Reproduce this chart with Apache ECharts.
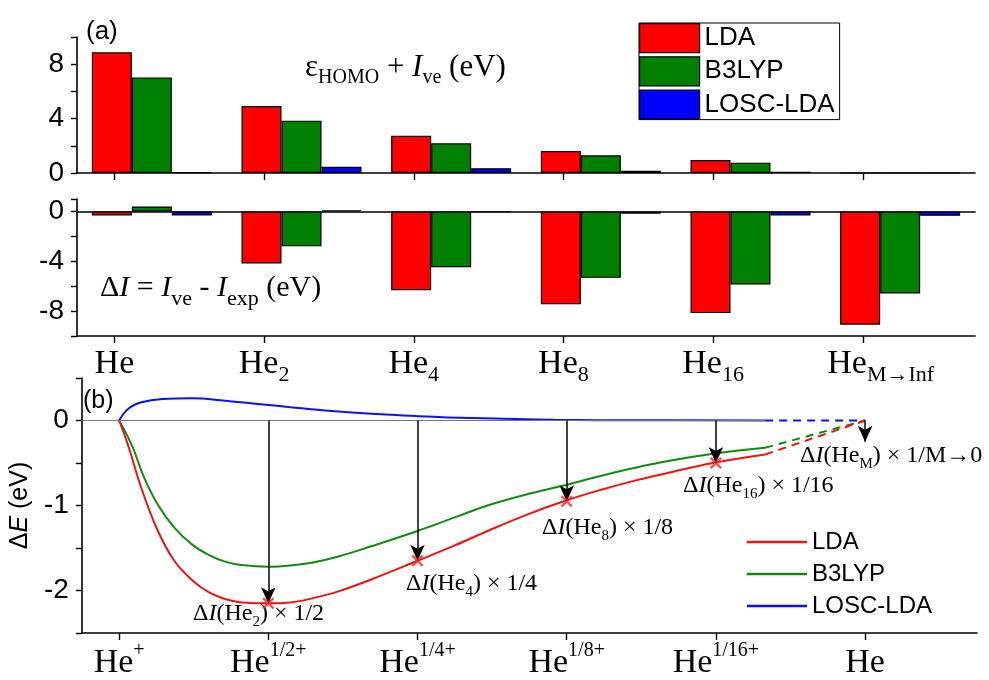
<!DOCTYPE html>
<html>
<head>
<meta charset="utf-8">
<script src="https://cdn.jsdelivr.net/npm/echarts@6/dist/echarts.min.js"></script>
<style>
  html, body { margin: 0; padding: 0; background: #fff; }
  #chart { width: 989px; height: 680px; }
</style>
</head>
<body>
<div id="chart"></div>
<script>
// ---- data ----
const clusters = ['He', 'He2', 'He4', 'He8', 'He16', 'HeInf'];
const tickPos = [1, 2, 3, 4, 5, 6];
const clusterSub = ['', '2', '4', '8', '16', 'M→Inf'];
const stateSup = ['+', '1/2+', '1/4+', '1/8+', '1/16+', ''];

// (a) upper: eps_HOMO + I_ve (eV)
const homoLDA   = [8.87, 4.93, 2.74, 1.62, 0.96, 0];
const homoB3LYP = [7.03, 3.85, 2.18, 1.30, 0.76, 0];
const homoLOSC  = [0.05, 0.46, 0.35, 0.17, 0.10, 0];
// (a) lower: dI = I_ve - I_exp (eV)
const dILDA   = [-0.32, -4.18, -6.32, -7.46, -8.16, -9.09];
const dIB3LYP = [0.40, -2.80, -4.48, -5.33, -5.86, -6.58];
const dILOSC  = [-0.32, 0.08, -0.05, -0.18, -0.32, -0.35];

// (b) dE along fractional charge
const ldaX   = [1, 1.06, 1.15, 1.26, 1.37, 1.49, 1.6, 1.71, 1.82, 2.0, 2.15, 2.3, 2.47, 2.69, 3.0, 3.25, 3.47, 3.73, 3.98, 4.22, 4.45, 4.67, 4.98, 5.33];
const ldaY   = [0, -0.29, -0.80, -1.30, -1.65, -1.88, -2.02, -2.10, -2.14, -2.15, -2.14, -2.09, -2.01, -1.87, -1.65, -1.47, -1.30, -1.11, -0.95, -0.82, -0.71, -0.62, -0.50, -0.40];
const b3lypX = [1, 1.085, 1.17, 1.26, 1.37, 1.49, 1.6, 1.71, 1.82, 2.0, 2.15, 2.3, 2.47, 2.69, 3.0, 3.25, 3.47, 3.73, 3.98, 4.22, 4.45, 4.67, 4.98, 5.33];
const b3lypY = [0, -0.29, -0.68, -0.99, -1.26, -1.46, -1.58, -1.66, -1.70, -1.72, -1.705, -1.67, -1.60, -1.48, -1.30, -1.14, -1.00, -0.87, -0.765, -0.655, -0.56, -0.48, -0.39, -0.32];
const loscX  = [1, 1.06, 1.15, 1.29, 1.49, 1.71, 1.93, 2.15, 2.38, 2.69, 3.0, 3.36, 3.91, 4.5, 5.33];
const loscY  = [0, 0.136, 0.214, 0.253, 0.261, 0.233, 0.195, 0.156, 0.117, 0.078, 0.051, 0.028, 0.008, 0.003, 0];
// dashed extrapolation to M -> inf
const tailX      = [5.33, 6];
const ldaTailY   = [-0.40, 0];
const b3lypTailY = [-0.32, 0];
const loscTailY  = [0, 0];
// dI(He_M) x 1/M points on the LDA curve
const crossX = [2, 3, 4, 5];
const crossY = [-2.15, -1.65, -0.95, -0.50];
const limitArrow = [6, -0.25];

const sans = 'Liberation Sans';
const serif = 'Liberation Serif';
const zip = (xs, ys) => xs.map((x, i) => [x, ys[i]]);

const chart = echarts.init(document.getElementById('chart'));

const barStyle = c => ({ color: c, borderColor: '#000', borderWidth: 1.2 });
const axisLineBlack = { show: true, onZero: false, lineStyle: { color: '#000', width: 1.6 } };
const blackTick = { show: true, customValues: tickPos, length: 7, lineStyle: { color: '#000', width: 1.4 } };

const subLabel = v => {
  const s = clusterSub[Math.round(v) - 1];
  if (!s) return '{m|He}';
  // long subscript: keep "He" over the tick like the original
  return (s.length > 2 ? '{mp|He}' : '{m|He}') + '{s|' + s + '}';
};
const supLabel = v => {
  const s = stateSup[Math.round(v) - 1];
  return s ? '{m|He}{p|' + s + '}' : '{m|He}';
};

const annoRich = {
  n: { fontFamily: serif, fontSize: 24, lineHeight: 32, color: '#000' },
  i: { fontFamily: serif, fontSize: 24, lineHeight: 32, fontStyle: 'italic', color: '#000' },
  s: { fontFamily: serif, fontSize: 15, lineHeight: 14, verticalAlign: 'bottom', color: '#000' }
};
const anno = (left, top, sub, tail) => ({
  type: 'text', left: left, top: top, silent: true,
  style: { text: '{n|Δ}{i|I}{n|(He}{s|' + sub + '}{n|) × ' + tail + '}', rich: annoRich }
});

const option = {
  animation: false,
  backgroundColor: '#fff',
  grid: [
    { left: 77, right: 14, top: 37, height: 136 },
    { left: 77, right: 14, top: 199, height: 137 },
    { left: 77, right: 12, top: 378, height: 258 }
  ],
  legend: [
    {
      data: ['LDA', 'B3LYP', 'LOSC-LDA'],
      orient: 'vertical', left: 639, top: 23,
      icon: 'rect', itemWidth: 60, itemHeight: 29, itemGap: 3,
      padding: [0, 5, 0, 0], borderColor: '#000', borderWidth: 1,
      itemStyle: { borderColor: '#000', borderWidth: 1.2 },
      textStyle: { fontFamily: sans, fontSize: 26, color: '#000' }
    },
    {
      data: ['LDA curve', 'B3LYP curve', 'LOSC-LDA curve'],
      formatter: n => n.replace(' curve', ''),
      orient: 'vertical', left: 747, top: 530,
      icon: 'rect', itemWidth: 60, itemHeight: 2.5, itemGap: 8, padding: 0,
      textStyle: { fontFamily: sans, fontSize: 24, lineHeight: 24, color: '#000' }
    }
  ],
  xAxis: [
    { type: 'category', gridIndex: 0, data: clusters, position: 'bottom',
      axisLine: { show: true, lineStyle: { color: '#000', width: 1.6 } },
      axisTick: { show: false }, axisLabel: { show: false } },
    { type: 'value', gridIndex: 0, min: 0.75, max: 6.75, position: 'bottom',
      axisLine: { show: false }, splitLine: { show: false },
      axisTick: blackTick, axisLabel: { show: false } },
    { type: 'category', gridIndex: 1, data: clusters, position: 'bottom',
      axisLine: { show: true, onZero: true, lineStyle: { color: '#000', width: 1.6 } },
      axisTick: { show: false }, axisLabel: { show: false } },
    { type: 'value', gridIndex: 1, min: 0.75, max: 6.75, position: 'bottom',
      axisLine: axisLineBlack, splitLine: { show: false }, axisTick: blackTick,
      axisLabel: {
        customValues: tickPos, margin: 6, formatter: subLabel,
        rich: {
          m: { fontFamily: serif, fontSize: 34, lineHeight: 44, color: '#000' },
          mp: { fontFamily: serif, fontSize: 34, lineHeight: 44, color: '#000', padding: [0, 0, 0, 36] },
          s: { fontFamily: serif, fontSize: 22, lineHeight: 12, verticalAlign: 'bottom', color: '#000' }
        }
      } },
    { type: 'value', gridIndex: 2, min: 0.75, max: 6.75, position: 'bottom',
      axisLine: axisLineBlack, splitLine: { show: false }, axisTick: blackTick,
      axisLabel: {
        customValues: tickPos, margin: 8, formatter: supLabel,
        rich: {
          m: { fontFamily: serif, fontSize: 34, lineHeight: 44, color: '#000' },
          p: { fontFamily: serif, fontSize: 20, lineHeight: 31, verticalAlign: 'top', color: '#000' }
        }
      } }
  ],
  yAxis: [
    { type: 'value', gridIndex: 0, min: 0, max: 10, interval: 2,
      axisLine: axisLineBlack, splitLine: { show: false },
      axisTick: { show: true, length: 6, lineStyle: { color: '#000', width: 1.4 } },
      axisLabel: { margin: 13, fontFamily: sans, fontSize: 28, color: '#000',
        formatter: v => (v % 4 === 0 && v < 10 ? String(v) : '') } },
    { type: 'value', gridIndex: 1, min: -10, max: 1, interval: 2,
      axisLine: axisLineBlack, splitLine: { show: false },
      axisTick: { show: true, length: 6, lineStyle: { color: '#000', width: 1.4 } },
      axisLabel: { margin: 13, fontFamily: sans, fontSize: 28, color: '#000',
        formatter: v => (v % 4 === 0 && v > -10 && v <= 0 ? String(v) : '') } },
    { type: 'value', gridIndex: 2, min: -2.5, max: 0.5, interval: 0.5,
      axisLine: axisLineBlack, splitLine: { show: false },
      axisTick: { show: true, length: 6, lineStyle: { color: '#000', width: 1.4 } },
      axisLabel: { margin: 13, fontFamily: sans, fontSize: 28, color: '#000',
        formatter: v => (Number.isInteger(v) && v <= 0 ? String(v) : '') },
      name: '{n|Δ}{i|E}{n| (eV)}', nameLocation: 'middle', nameRotate: 90, nameGap: 44,
      nameTextStyle: { rich: {
        n: { fontFamily: sans, fontSize: 25, color: '#000' },
        i: { fontFamily: sans, fontSize: 25, fontStyle: 'italic', color: '#000' }
      } } }
  ],
  series: [
    { name: 'LDA', type: 'bar', xAxisIndex: 0, yAxisIndex: 0, data: homoLDA, barWidth: 40, barGap: '0%', itemStyle: barStyle('#ff0000') },
    { name: 'B3LYP', type: 'bar', xAxisIndex: 0, yAxisIndex: 0, data: homoB3LYP, barWidth: 40, barGap: '0%', itemStyle: barStyle('#008000') },
    { name: 'LOSC-LDA', type: 'bar', xAxisIndex: 0, yAxisIndex: 0, data: homoLOSC, barWidth: 40, barGap: '0%', itemStyle: barStyle('#0000ff') },
    { name: 'LDA', type: 'bar', xAxisIndex: 2, yAxisIndex: 1, data: dILDA, barWidth: 40, barGap: '0%', itemStyle: barStyle('#ff0000') },
    { name: 'B3LYP', type: 'bar', xAxisIndex: 2, yAxisIndex: 1, data: dIB3LYP, barWidth: 40, barGap: '0%', itemStyle: barStyle('#008000') },
    { name: 'LOSC-LDA', type: 'bar', xAxisIndex: 2, yAxisIndex: 1, data: dILOSC, barWidth: 40, barGap: '0%', itemStyle: barStyle('#0000ff') },

    { name: 'LOSC-LDA curve', type: 'line', xAxisIndex: 4, yAxisIndex: 2, data: zip(loscX, loscY),
      smooth: 0.4, symbol: 'none', color: '#1010ee', lineStyle: { width: 2 }, z: 3,
      markLine: { silent: true, symbol: 'none', label: { show: false },
        lineStyle: { color: '#777', width: 1, type: 'solid' },
        data: [[{ coord: [0.75, 0] }, { coord: [tailX[0], 0] }]] } },
    { name: 'B3LYP curve', type: 'line', xAxisIndex: 4, yAxisIndex: 2, data: zip(b3lypX, b3lypY),
      smooth: 0.4, symbol: 'none', color: '#128a12', lineStyle: { width: 2 }, z: 3 },
    { name: 'LDA curve', type: 'line', xAxisIndex: 4, yAxisIndex: 2, data: zip(ldaX, ldaY),
      smooth: 0.4, symbol: 'none', color: '#ee1414', lineStyle: { width: 2 }, z: 3 },
    { name: 'LOSC-LDA tail', type: 'line', xAxisIndex: 4, yAxisIndex: 2, data: zip(tailX, loscTailY),
      symbol: 'none', color: '#1010ee', lineStyle: { width: 2, type: [8, 6] } },
    { name: 'B3LYP tail', type: 'line', xAxisIndex: 4, yAxisIndex: 2, data: zip(tailX, b3lypTailY),
      symbol: 'none', color: '#128a12', lineStyle: { width: 2, type: [8, 6] } },
    { name: 'LDA tail', type: 'line', xAxisIndex: 4, yAxisIndex: 2, data: zip(tailX, ldaTailY),
      symbol: 'none', color: '#ee1414', lineStyle: { width: 2, type: [8, 6] } },

    { name: 'dI x 1/M', type: 'scatter', xAxisIndex: 4, yAxisIndex: 2, data: zip(crossX, crossY), z: 6,
      symbol: 'path://M0,1.4L1.4,0L5,3.6L8.6,0L10,1.4L6.4,5L10,8.6L8.6,10L5,6.4L1.4,10L0,8.6L3.6,5Z',
      symbolSize: 12, itemStyle: { color: '#ff2020' },
      markLine: { silent: true, symbol: ['none', 'arrow'], symbolSize: [11, 16], label: { show: false },
        lineStyle: { color: '#000', width: 1.5, type: 'solid' },
        data: crossX.map((x, i) => [{ coord: [x, 0] }, { coord: [x, crossY[i]] }])
          .concat([[{ coord: [limitArrow[0], 0] }, { coord: limitArrow }]]) } }
  ],
  graphic: [
    { type: 'text', left: 86, top: 19, silent: true,
      style: { text: '(a)', fontFamily: sans, fontSize: 26, fill: '#000' } },
    { type: 'text', left: 83, top: 389, silent: true,
      style: { text: '(b)', fontFamily: sans, fontSize: 25, fill: '#000' } },
    { type: 'text', left: 305, top: 52, silent: true,
      style: { text: '{n|ε}{s|HOMO}{n| + }{i|I}{s|ve}{n| (eV)}', rich: {
        n: { fontFamily: serif, fontSize: 31, lineHeight: 40, color: '#000' },
        i: { fontFamily: serif, fontSize: 31, lineHeight: 40, fontStyle: 'italic', color: '#000' },
        s: { fontFamily: serif, fontSize: 20, lineHeight: 21, verticalAlign: 'bottom', color: '#000' }
      } } },
    { type: 'text', left: 100, top: 273, silent: true,
      style: { text: '{n|Δ}{i|I}{n| = }{i|I}{s|ve}{n| - }{i|I}{s|exp}{n| (eV)}', rich: {
        n: { fontFamily: serif, fontSize: 30, lineHeight: 44, color: '#000' },
        i: { fontFamily: serif, fontSize: 30, lineHeight: 44, fontStyle: 'italic', color: '#000' },
        s: { fontFamily: serif, fontSize: 22, lineHeight: 15, verticalAlign: 'bottom', color: '#000' }
      } } },
    anno(193, 602, '2', '1/2'),
    anno(406, 572, '4', '1/4'),
    anno(542, 516, '8', '1/8'),
    anno(683, 474, '16', '1/16'),
    anno(800, 444, 'M', '1/M→0')
  ]
};

chart.setOption(option);
</script>
</body>
</html>
